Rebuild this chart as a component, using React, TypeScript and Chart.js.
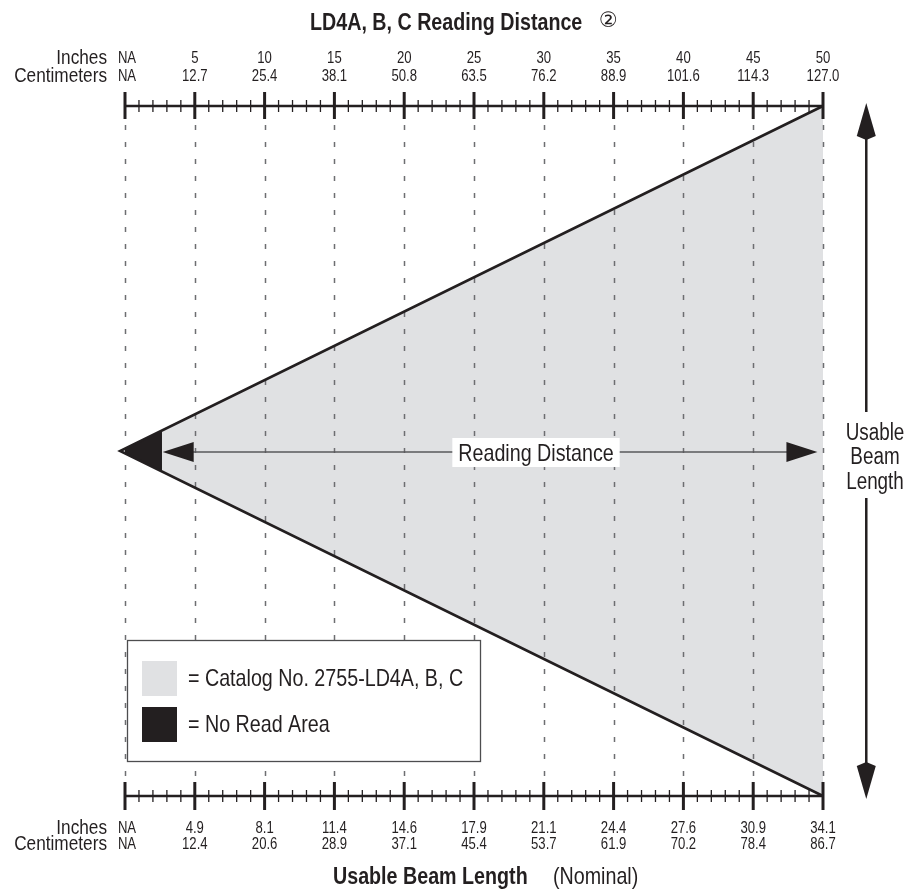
import React, { useEffect, useRef } from 'react';
import { Chart, registerables } from 'chart.js';

Chart.register(...registerables);

// ---- data ----
const readingTickValues = [0, 5, 10, 15, 20, 25, 30, 35, 40, 45, 50];
const readingInches = ['NA', '5', '10', '15', '20', '25', '30', '35', '40', '45', '50'];
const readingCm = ['NA', '12.7', '25.4', '38.1', '50.8', '63.5', '76.2', '88.9', '101.6', '114.3', '127.0'];
const beamInches = ['NA', '4.9', '8.1', '11.4', '14.6', '17.9', '21.1', '24.4', '27.6', '30.9', '34.1'];
const beamCm = ['NA', '12.4', '20.6', '28.9', '37.1', '45.4', '53.7', '61.9', '70.2', '78.4', '86.7'];
const minorStep = 1;
const maxReading = 50;
const maxBeamHalf = 17.05; // half of 34.1 in
const apexReading = -0.35;
const noReadEdge = 2.6;
const noReadHalf = 1.0;
const readingArrowFrom = 2.7;
const readingArrowTo = 49.6;
const beamArrowAt = 53.1;

const INK = '#231f20';
const GRAY_FILL = '#e0e1e3';
const GRID = '#6d6e71';
const SANS = '"Liberation Sans", Arial, Helvetica, sans-serif';
const NARROW_SCALE = 0.82;

function narrowText(
  ctx: CanvasRenderingContext2D,
  text: string,
  x: number,
  y: number,
  size: number,
  align: CanvasTextAlign,
  bold = false
) {
  ctx.save();
  ctx.font = `${bold ? 'bold ' : ''}${size}px ${SANS}`;
  ctx.textAlign = align;
  ctx.textBaseline = 'middle';
  ctx.fillStyle = INK;
  ctx.translate(x, y);
  ctx.scale(NARROW_SCALE, 1);
  ctx.fillText(text, 0, 0);
  ctx.restore();
}

function narrowWidth(ctx: CanvasRenderingContext2D, text: string, size: number, bold = false) {
  ctx.save();
  ctx.font = `${bold ? 'bold ' : ''}${size}px ${SANS}`;
  const w = ctx.measureText(text).width * NARROW_SCALE;
  ctx.restore();
  return w;
}

function arrowHead(ctx: CanvasRenderingContext2D, tipX: number, tipY: number, dirX: number, dirY: number, len: number, halfW: number, notch = 0) {
  const bx = tipX - dirX * len;
  const by = tipY - dirY * len;
  const px = -dirY;
  const py = dirX;
  ctx.beginPath();
  ctx.moveTo(tipX, tipY);
  ctx.lineTo(bx + px * halfW, by + py * halfW);
  ctx.lineTo(bx + dirX * notch, by + dirY * notch);
  ctx.lineTo(bx - px * halfW, by - py * halfW);
  ctx.closePath();
  ctx.fill();
}

function drawAxis(ctx: CanvasRenderingContext2D, x: any, yPix: number, upMajor: number, downMajor: number) {
  ctx.save();
  ctx.strokeStyle = INK;
  ctx.lineCap = 'butt';
  ctx.lineWidth = 2.5;
  ctx.beginPath();
  ctx.moveTo(x.getPixelForValue(0), yPix);
  ctx.lineTo(x.getPixelForValue(maxReading), yPix);
  ctx.stroke();
  for (let v = 0; v <= maxReading; v += minorStep) {
    const major = v % 5 === 0;
    const px = x.getPixelForValue(v);
    ctx.lineWidth = major ? 3 : 1.3;
    ctx.beginPath();
    if (major) {
      ctx.moveTo(px, yPix - upMajor);
      ctx.lineTo(px, yPix + downMajor);
    } else {
      ctx.moveTo(px, yPix - 6);
      ctx.lineTo(px, yPix + 6);
    }
    ctx.stroke();
  }
  ctx.restore();
}

const diagramPlugin = {
  id: 'diagram',
  afterDatasetDraw(chart: any, args: any) {
    if (args.index !== 0) return;
    const { ctx, chartArea } = chart;
    const x = chart.scales.x;
    ctx.save();
    ctx.strokeStyle = GRID;
    ctx.lineWidth = 1.5;
    ctx.setLineDash([5, 12]);
    for (const v of readingTickValues) {
      const px = Math.round(x.getPixelForValue(v)) + 0.5;
      ctx.beginPath();
      ctx.moveTo(px, chartArea.top + 19);
      ctx.lineTo(px, chartArea.bottom - 14);
      ctx.stroke();
    }
    ctx.restore();
  },
  afterDatasetsDraw(chart: any) {
    const { ctx, chartArea } = chart;
    const x = chart.scales.x;
    const y = chart.scales.y;
    const top = chartArea.top;
    const bottom = chartArea.bottom;

    drawAxis(ctx, x, top, 14, 13);
    drawAxis(ctx, x, bottom, 14, 14);

    ctx.save();
    ctx.fillStyle = INK;

    // tick labels
    readingTickValues.forEach((v, i) => {
      const px = x.getPixelForValue(v) + (i === 0 ? 2 : 0);
      narrowText(ctx, readingInches[i], px, top - 47, 16, 'center');
      narrowText(ctx, readingCm[i], px, top - 29, 16, 'center');
      narrowText(ctx, beamInches[i], px, bottom + 33, 16, 'center');
      narrowText(ctx, beamCm[i], px, bottom + 49, 16, 'center');
    });

    // unit labels
    narrowText(ctx, 'Inches', 107, top - 48, 21, 'right');
    narrowText(ctx, 'Centimeters', 107, top - 30, 21, 'right');
    narrowText(ctx, 'Inches', 107, bottom + 32, 21, 'right');
    narrowText(ctx, 'Centimeters', 107, bottom + 48, 21, 'right');

    // titles
    narrowText(ctx, 'LD4A, B, C Reading Distance', 310, 23, 24, 'left', true);
    const tw = narrowWidth(ctx, 'LD4A, B, C Reading Distance', 24, true);
    ctx.font = '21px "DejaVu Sans", sans-serif';
    ctx.textAlign = 'center';
    ctx.textBaseline = 'middle';
    ctx.fillStyle = INK;
    ctx.fillText('\u2461', 310 + tw + 26, 22);
    narrowText(ctx, 'Usable Beam Length', 333, 877, 24, 'left', true);
    narrowText(ctx, '(Nominal)', 553, 877, 24, 'left');

    // reading distance arrow
    const ay = y.getPixelForValue(0) + 1;
    const ax0 = x.getPixelForValue(readingArrowFrom);
    const ax1 = x.getPixelForValue(readingArrowTo);
    ctx.strokeStyle = '#58595b';
    ctx.lineWidth = 1.6;
    ctx.beginPath();
    ctx.moveTo(ax0 + 20, ay);
    ctx.lineTo(ax1 - 20, ay);
    ctx.stroke();
    ctx.fillStyle = INK;
    arrowHead(ctx, ax0, ay, -1, 0, 31, 10);
    arrowHead(ctx, ax1, ay, 1, 0, 31, 10);

    const label = 'Reading Distance';
    const lw = narrowWidth(ctx, label, 24);
    const lcx = 536;
    ctx.fillStyle = '#ffffff';
    ctx.fillRect(lcx - lw / 2 - 6, ay - 14, lw + 12, 29);
    narrowText(ctx, label, lcx, ay + 2, 24, 'center');

    // usable beam length arrow
    const bx = x.getPixelForValue(beamArrowAt);
    const tipTop = top - 3;
    const tipBottom = bottom + 3;
    ctx.strokeStyle = INK;
    ctx.fillStyle = INK;
    ctx.lineWidth = 2.5;
    ctx.beginPath();
    ctx.moveTo(bx, tipTop + 25);
    ctx.lineTo(bx, 412);
    ctx.moveTo(bx, 498);
    ctx.lineTo(bx, tipBottom - 25);
    ctx.stroke();
    arrowHead(ctx, bx, tipTop, 0, -1, 33, 9.5, -4);
    arrowHead(ctx, bx, tipBottom, 0, 1, 33, 9.5, -4);
    narrowText(ctx, 'Usable', 875, 434, 23, 'center');
    narrowText(ctx, 'Beam', 875, 458, 23, 'center');
    narrowText(ctx, 'Length', 875, 483, 23, 'center');

    // legend box
    ctx.strokeStyle = '#4d4d4f';
    ctx.lineWidth = 1.3;
    ctx.fillStyle = '#ffffff';
    ctx.fillRect(127, 640, 353, 121);
    ctx.strokeRect(127.5, 640.5, 353, 121);
    ctx.fillStyle = GRAY_FILL;
    ctx.fillRect(142, 661, 35, 35);
    ctx.fillStyle = INK;
    ctx.fillRect(142, 707, 35, 35);
    narrowText(ctx, '= Catalog No. 2755-LD4A, B, C', 188, 679, 24, 'left');
    narrowText(ctx, '= No Read Area', 188, 725, 24, 'left');
    ctx.restore();
  },
};

export default function App() {
  const ref = useRef<HTMLCanvasElement | null>(null);
  useEffect(() => {
    document.body.style.margin = '0';
    if (!ref.current) return;
    const apex = { x: apexReading, y: 0 };
    const chart = new Chart(ref.current, {
      type: 'scatter',
      data: {
        datasets: [
          {
            label: 'Catalog No. 2755-LD4A, B, C',
            data: [apex, { x: maxReading, y: maxBeamHalf }, { x: maxReading, y: -maxBeamHalf }, apex],
            showLine: true,
            fill: 'shape',
            backgroundColor: GRAY_FILL,
            borderWidth: 0,
            pointRadius: 0,
            clip: false,
            order: 3,
          } as any,
          {
            label: 'No Read Area',
            data: [apex, { x: noReadEdge, y: noReadHalf }, { x: noReadEdge, y: -noReadHalf }, apex],
            showLine: true,
            fill: 'shape',
            backgroundColor: INK,
            borderColor: INK,
            borderWidth: 1,
            pointRadius: 0,
            clip: false,
            order: 2,
          } as any,
          {
            label: 'Beam edge',
            data: [{ x: maxReading, y: maxBeamHalf }, apex, { x: maxReading, y: -maxBeamHalf }],
            showLine: true,
            fill: false,
            borderColor: INK,
            borderWidth: 2.6,
            borderJoinStyle: 'miter',
            pointRadius: 0,
            clip: false,
            order: 1,
          } as any,
        ],
      },
      options: {
        responsive: false,
        animation: false,
        events: [],
        layout: { padding: { left: 125, right: 87, top: 106, bottom: 94 } },
        plugins: {
          legend: { display: false },
          tooltip: { enabled: false },
          title: { display: false },
        },
        scales: {
          x: { type: 'linear', min: 0, max: maxReading, display: false },
          y: { type: 'linear', min: -maxBeamHalf, max: maxBeamHalf, display: false },
        },
      },
      plugins: [diagramPlugin],
    });
    return () => chart.destroy();
  }, []);
  return (
    <div style={{ width: 910, height: 890 }}>
      <canvas ref={ref} width={910} height={890} style={{ display: 'block' }} />
    </div>
  );
}
